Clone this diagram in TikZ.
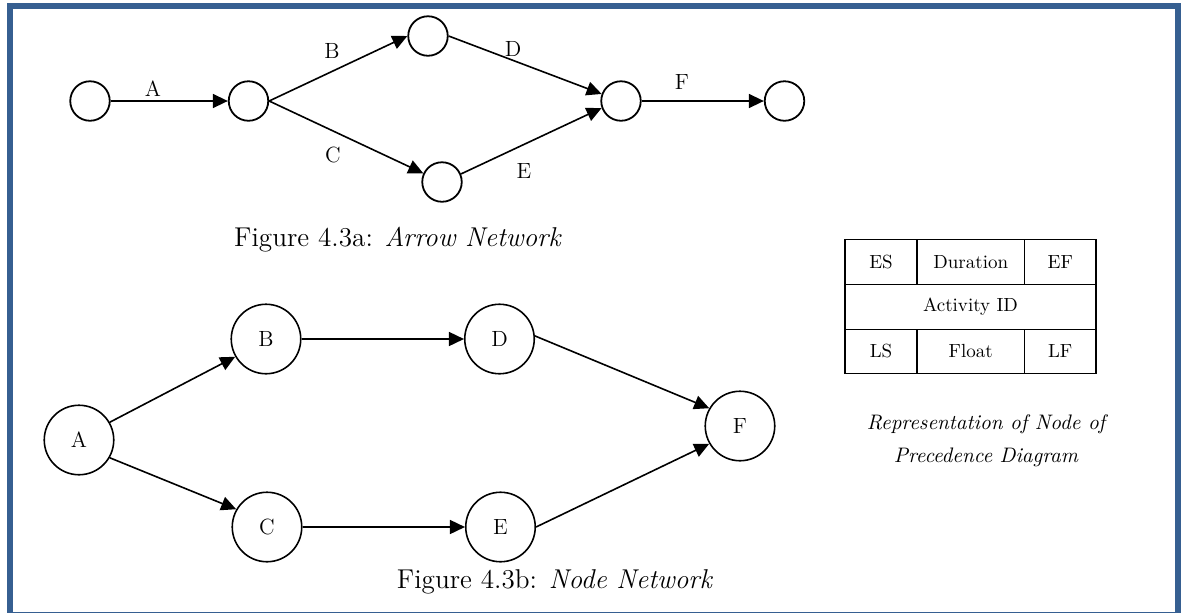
\documentclass[tikz,border=0pt]{standalone}
\usepackage{tikz}
\usetikzlibrary{arrows.meta, calc}

\definecolor{framecol}{RGB}{54,95,145}

\tikzset{
	event/.style={circle, draw, line width=0.9pt, minimum size=19.75pt, inner sep=0pt},
	actnode/.style={circle, draw, line width=0.8pt, minimum size=34.75pt, inner sep=0pt, font=\fontsize{11}{13}\selectfont},
	arr/.style={-{Triangle[length=7.5pt,width=7pt]}, line width=0.8pt},
	lbl/.style={font=\fontsize{11}{13}\selectfont, inner sep=0pt},
	cell/.style={draw, line width=0.6pt, inner sep=0pt, font=\fontsize{9.5}{11}\selectfont},
	caption/.style={font=\fontsize{13.6}{15}\selectfont, inner sep=0pt}
}

\begin{document}
\begin{tikzpicture}[x=0.5pt, y=-0.5pt]
	\useasboundingbox (0,0) rectangle (1184,612);
	\draw[framecol, line width=3pt] (10.3,6.3) rectangle (1177.7,614.5);

	% arrow network
	\node[event] (n1) at (90,101) {};
	\node[event] (n2) at (248.5,101) {};
	\node[event] (n3) at (428,36) {};
	\node[event] (n4) at (442,182) {};
	\node[event] (n5) at (621,101) {};
	\node[event] (n6) at (784.5,101) {};

	\draw[arr] (n1.east) -- (n2.west);
	\draw[arr] (n2.east) -- (n3.west);
	\draw[arr] (n2.east) -- (n4.155);
	\draw[arr] (n3.east) -- (n5.160);
	\draw[arr] (n4.23) -- (n5.200);
	\draw[arr] (n5.east) -- (n6.west);

	\node[lbl] (la) at (153,89) {A};
	\node[lbl] (lb) at (332,51) {B};
	\node[lbl] (lc) at (333,155) {C};
	\node[lbl] (ld) at (513,49) {D};
	\node[lbl] (le) at (524,171) {E};
	\node[lbl] (lf) at (682,82) {F};

	\node[caption] (capa) at (398,240) {Figure 4.3a: \textit{Arrow Network}};

	% node network
	\node[actnode] (A) at (79,440) {A};
	\node[actnode] (B) at (266,339) {B};
	\node[actnode] (C) at (267,527) {C};
	\node[actnode] (D) at (499.5,339) {D};
	\node[actnode] (E) at (500.5,527) {E};
	\node[actnode] (F) at (740,426) {F};

	\draw[arr] (A.30) -- (B.210);
	\draw[arr] (A.-30) -- (C.150);
	\draw[arr] (B.east) -- (D.west);
	\draw[arr] (C.east) -- (E.west);
	\draw[arr] (D.5) -- (F.150);
	\draw[arr] (E.east) -- (F.210);

	\node[caption] (capb) at (555,582) {Figure 4.3b: \textit{Node Network}};

	% node representation
	\node[cell, minimum width=36pt, minimum height=22.15pt] (es) at (881,262) {ES};
	\node[cell, minimum width=53.75pt, minimum height=22.15pt] (dur) at (970.75,262) {Duration};
	\node[cell, minimum width=35.75pt, minimum height=22.15pt] (ef) at (1060.25,262) {EF};
	\node[cell, minimum width=125.5pt, minimum height=22.5pt] (aid) at (970.5,306.8) {Activity ID};
	\node[cell, minimum width=36pt, minimum height=22pt] (ls) at (881,351.3) {LS};
	\node[cell, minimum width=53.75pt, minimum height=22pt] (flt) at (970.75,351.3) {Float};
	\node[cell, minimum width=35.75pt, minimum height=22pt] (lf) at (1060.25,351.3) {LF};

	\node[font=\fontsize{10.5}{16.5}\selectfont\itshape, align=center] (rep) at (986,441) {Representation of Node of\\Precedence Diagram};
\end{tikzpicture}
\end{document}
